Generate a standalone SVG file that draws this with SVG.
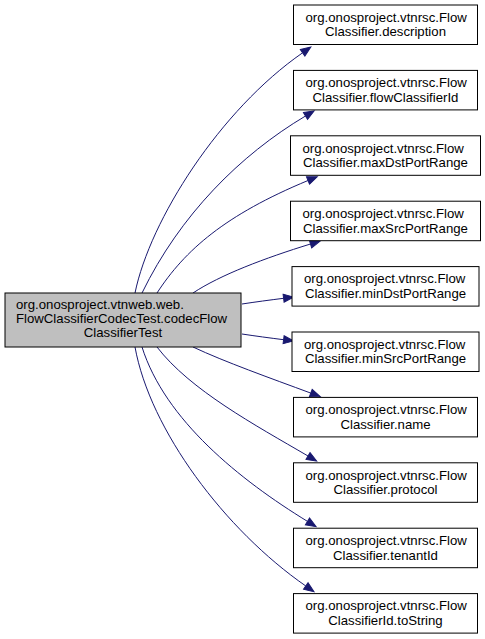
<svg xmlns="http://www.w3.org/2000/svg" width="485" height="639" viewBox="0 0 485 639">
<style>
  .box { fill: #ffffff; stroke: #000000; stroke-width: 1; }
  .main { fill: #bfbfbf; stroke: #000000; stroke-width: 1; }
  text { font-family: "Liberation Sans", Arial, Helvetica, sans-serif; font-size: 13.2px; fill: #000000; }
  .c { text-anchor: middle; }
  .s { text-anchor: start; }
  .edge { fill: none; stroke: #191970; stroke-width: 1; marker-end: url(#arr); }
</style>
<defs>
  <marker id="arr" markerUnits="userSpaceOnUse" markerWidth="12" markerHeight="9" refX="0" refY="4" orient="auto" overflow="visible">
    <path d="M0,0 L10,4 L0,8 z" fill="#191970" stroke="#191970" stroke-width="1"/>
  </marker>
</defs>
<rect width="485" height="639" fill="#ffffff"/>
<g id="edges">
  <path class="edge" d="M135,293 C150,220 220,110 302.6,52.8"/>
  <path class="edge" d="M142,293 C180,215 240,155 305.5,116"/>
  <path class="edge" d="M157,293 C185,250 225,215 308,180.5"/>
  <path class="edge" d="M193,293 C220,275 265,258 310.5,244"/>
  <path class="edge" d="M242,304 C255,302 270,300 283.6,298.3"/>
  <path class="edge" d="M242,334 C255,336 270,338 283.6,339.7"/>
  <path class="edge" d="M193,347 C225,362 270,378 310.8,393.1"/>
  <path class="edge" d="M157,347 C190,390 255,425 308,456"/>
  <path class="edge" d="M142,347 C165,420 240,480 307.5,521.4"/>
  <path class="edge" d="M135,347 C150,430 225,530 305.8,586"/>
</g>
<g id="main">
  <rect class="main" x="5" y="293" width="236" height="54"/>
  <text class="s" x="16" y="309">org.onosproject.vtnweb.web.</text>
  <text class="s" x="16" y="323">FlowClassifierCodecTest.codecFlow</text>
  <text class="c" x="123" y="337">ClassifierTest</text>
</g>
<g id="n1">
  <rect class="box" x="293.5" y="5" width="184" height="39.5"/>
  <text class="s" x="305.5" y="21.8">org.onosproject.vtnrsc.Flow</text>
  <text class="c" x="385.5" y="36.3">Classifier.description</text>
</g>
<g id="n2">
  <rect class="box" x="293.5" y="70.4" width="184" height="39.5"/>
  <text class="s" x="305.5" y="87.2">org.onosproject.vtnrsc.Flow</text>
  <text class="c" x="385.5" y="101.7">Classifier.flowClassifierId</text>
</g>
<g id="n3">
  <rect class="box" x="290.5" y="135.8" width="190" height="39.5"/>
  <text class="s" x="302.5" y="152.6">org.onosproject.vtnrsc.Flow</text>
  <text class="c" x="385.5" y="167.1">Classifier.maxDstPortRange</text>
</g>
<g id="n4">
  <rect class="box" x="290.5" y="201.2" width="190" height="39.5"/>
  <text class="s" x="302.5" y="218">org.onosproject.vtnrsc.Flow</text>
  <text class="c" x="385.5" y="232.5">Classifier.maxSrcPortRange</text>
</g>
<g id="n5">
  <rect class="box" x="292" y="266.6" width="187" height="39.5"/>
  <text class="s" x="304" y="283.4">org.onosproject.vtnrsc.Flow</text>
  <text class="c" x="385.5" y="297.9">Classifier.minDstPortRange</text>
</g>
<g id="n6">
  <rect class="box" x="292" y="332" width="187" height="39.5"/>
  <text class="s" x="304" y="348.8">org.onosproject.vtnrsc.Flow</text>
  <text class="c" x="385.5" y="363.3">Classifier.minSrcPortRange</text>
</g>
<g id="n7">
  <rect class="box" x="293.5" y="397.4" width="184" height="39.5"/>
  <text class="s" x="305.5" y="414.2">org.onosproject.vtnrsc.Flow</text>
  <text class="c" x="385.5" y="428.7">Classifier.name</text>
</g>
<g id="n8">
  <rect class="box" x="293.5" y="462.8" width="184" height="39.5"/>
  <text class="s" x="305.5" y="479.6">org.onosproject.vtnrsc.Flow</text>
  <text class="c" x="385.5" y="494.1">Classifier.protocol</text>
</g>
<g id="n9">
  <rect class="box" x="293.5" y="528.2" width="184" height="39.5"/>
  <text class="s" x="305.5" y="545">org.onosproject.vtnrsc.Flow</text>
  <text class="c" x="385.5" y="559.5">Classifier.tenantId</text>
</g>
<g id="n10">
  <rect class="box" x="293.5" y="593.6" width="184" height="39.5"/>
  <text class="s" x="305.5" y="610.4">org.onosproject.vtnrsc.Flow</text>
  <text class="c" x="385.5" y="624.9">ClassifierId.toString</text>
</g>
</svg>
